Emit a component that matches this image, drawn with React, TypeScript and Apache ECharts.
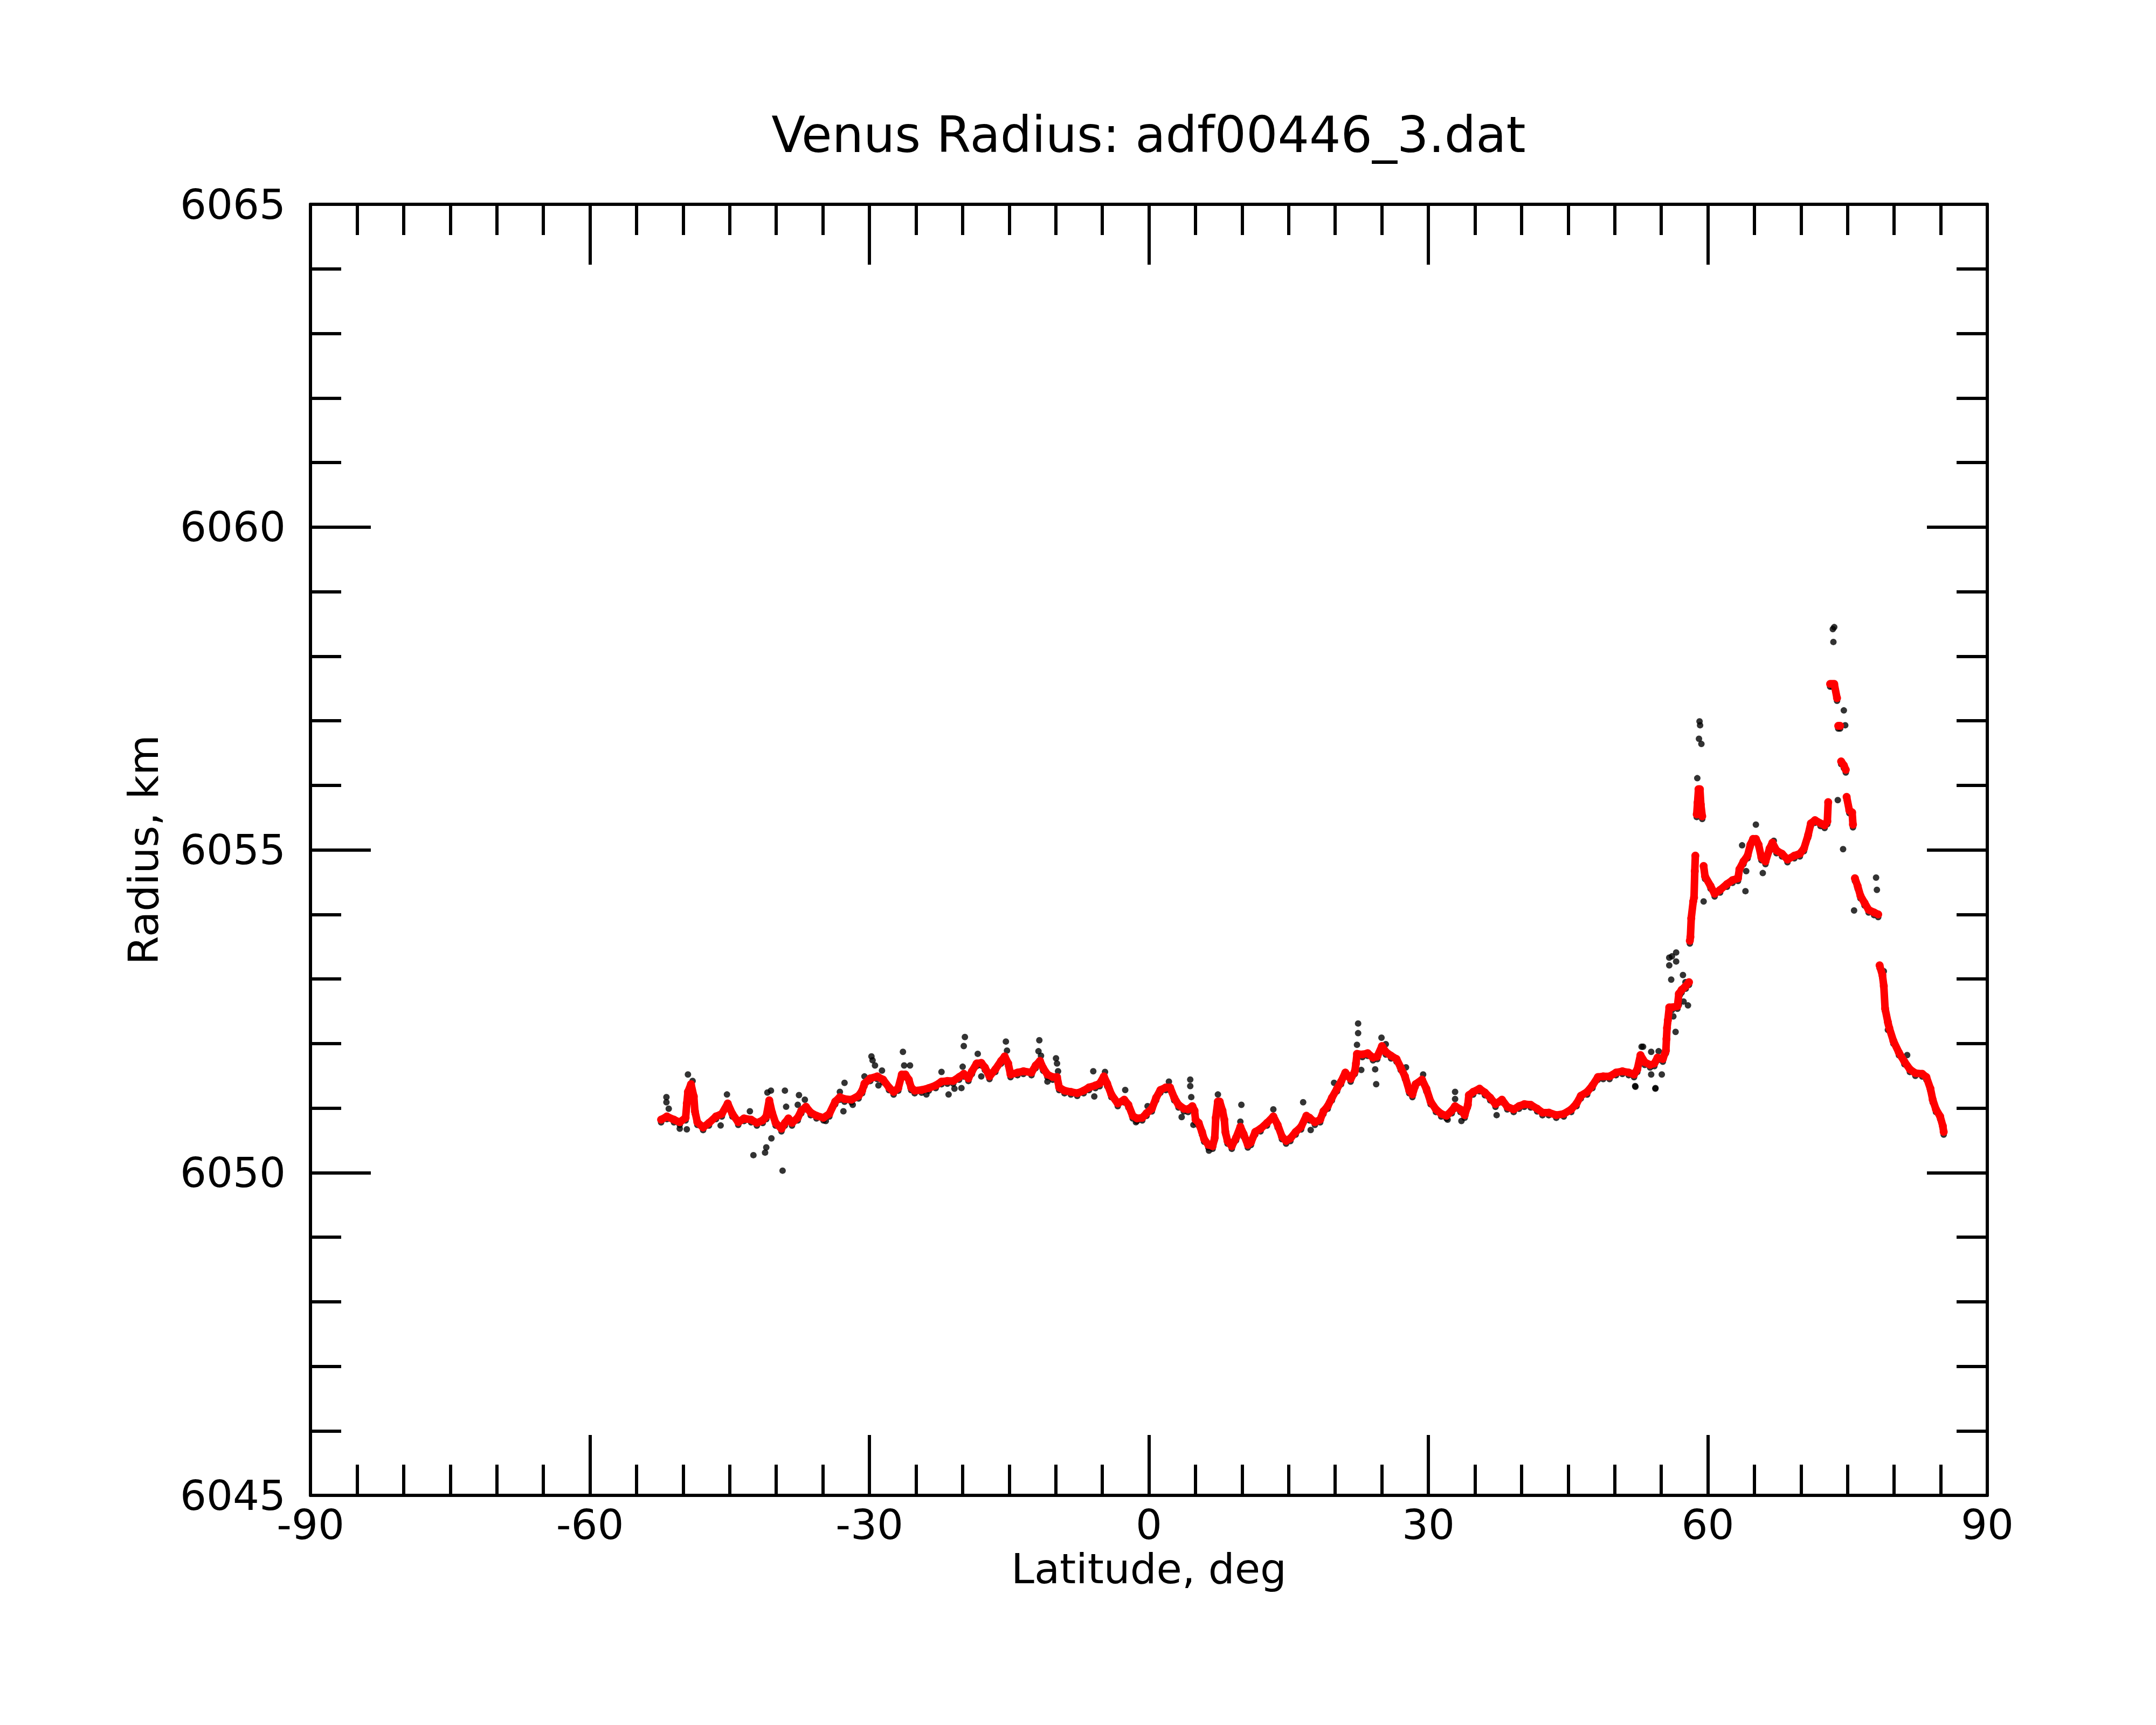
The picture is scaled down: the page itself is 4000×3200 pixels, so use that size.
import React, { useEffect, useRef } from "react";
import * as echarts from "echarts";

const titleText = "Venus Radius: adf00446_3.dat";
const xName = "Latitude, deg";
const yName = "Radius, km";
const xMin = -90;
const xMax = 90;
const xStep = 30;
const yMin = 6045;
const yMax = 6065;
const yStep = 5;

// smoothed profile (red)
const redLat = [
  -52.36, -51.74, -50.98, -50.36, -49.73, -49.6, -49.48, -49.15, -48.85, -48.73,
  -48.47, -47.85, -47.22, -46.47, -45.84, -45.21, -44.71, -44.08, -43.46, -42.7,
  -42.08, -41.45, -41.07, -40.75, -40.45, -40.07, -39.44, -39.07, -38.69, -38.31,
  -37.69, -37.31, -36.81, -36.3, -35.68, -34.93, -34.3, -33.67, -33.17, -32.67,
  -31.92, -31.16, -30.78, -30.53, -29.91, -29.15, -28.53, -27.9, -27.4, -26.9,
  -26.52, -26.14, -25.77, -25.52, -25.14, -24.39, -23.63, -22.88, -22.26, -21.63,
  -21.0, -20.37, -19.87, -19.37, -18.99, -18.49, -17.99, -17.61, -17.11, -16.48,
  -15.86, -15.48, -15.1, -14.85, -14.1, -13.47, -12.6, -12.15, -11.69, -11.35,
  -10.89, -10.32, -9.86, -9.63, -9.06, -8.37, -7.69, -7.0, -6.43, -5.74,
  -5.28, -4.83, -4.48, -4.03, -3.34, -2.65, -2.2, -1.74, -1.28, -0.71,
  -0.25, 0.32, 0.78, 1.24, 1.81, 2.27, 2.72, 3.18, 3.75, 4.21,
  4.67, 4.9, 5.01, 5.35, 5.7, 5.93, 6.38, 6.84, 7.07, 7.18,
  7.4, 7.6, 7.9, 8.1, 8.21, 8.44, 8.9, 9.36, 9.82, 10.16,
  10.62, 10.96, 11.42, 11.99, 12.68, 13.36, 13.82, 14.28, 14.73, 15.19,
  15.76, 16.34, 16.91, 17.25, 17.82, 18.39, 18.74, 19.2, 19.65, 20.2,
  20.63, 21.09, 21.66, 22.11, 22.23, 22.34, 22.92, 23.49, 24.06, 24.52,
  25.02, 25.43, 26.0, 26.58, 27.03, 27.49, 27.95, 28.29, 28.63, 29.32,
  29.78, 30.24, 30.81, 31.38, 31.95, 32.52, 32.87, 33.44, 33.9, 34.24,
  34.35, 34.81, 35.5, 36.07, 36.64, 37.21, 37.9, 38.47, 39.16, 39.73,
  40.3, 40.99, 41.68, 42.25, 42.93, 43.73, 44.54, 45.34, 45.91, 46.37,
  47.05, 47.62, 48.2, 48.77, 49.45, 50.14, 50.83, 51.51, 52.08, 52.43,
  52.77, 53.23, 53.8, 54.26, 54.6, 55.17, 55.5, 55.56, 55.62, 55.71,
  55.86, 56.15, 56.74, 56.89, 57.19, 57.63, 57.98, 58.07, 58.13, 58.22,
  58.43, 58.52, 58.6, 58.66, 58.81, 58.9, 59.0, 59.15, 59.25, 59.4,
  59.55, 59.7, 60.29, 60.73, 61.32, 62.06, 62.65, 63.24, 63.39, 63.83,
  64.27, 64.57, 64.86, 65.16, 65.45, 65.75, 66.19, 66.63, 66.93, 67.37,
  67.96, 68.55, 69.29, 69.88, 70.32, 70.77, 71.06, 71.5, 72.1, 72.54,
  72.83, 72.92, 73.13, 73.35, 73.57, 73.87, 74.0, 74.2, 74.31, 74.6,
  74.81, 74.9, 75.19, 75.49, 75.58, 75.79, 76.08, 76.38, 76.82, 77.26,
  77.85, 78.29, 78.44, 78.74, 78.89, 79.03, 79.33, 79.48, 79.92, 80.51,
  81.1, 81.69, 82.28, 83.02, 83.46, 83.9, 84.14, 84.49, 84.94, 85.23,
  85.32,
];
const redVal = [
  6050.82, 6050.87, 6050.82, 6050.78, 6050.85, 6051.07, 6051.25, 6051.37, 6051.18, 6050.95,
  6050.78, 6050.7, 6050.77, 6050.87, 6050.91, 6051.07, 6050.91, 6050.78, 6050.84, 6050.82,
  6050.77, 6050.81, 6050.87, 6051.12, 6050.93, 6050.77, 6050.68, 6050.77, 6050.84, 6050.77,
  6050.85, 6050.96, 6051.02, 6050.93, 6050.88, 6050.85, 6050.91, 6051.1, 6051.17, 6051.14,
  6051.13, 6051.19, 6051.27, 6051.38, 6051.46, 6051.49, 6051.44, 6051.32, 6051.25, 6051.31,
  6051.52, 6051.52, 6051.44, 6051.32, 6051.27, 6051.28, 6051.31, 6051.35, 6051.41, 6051.42,
  6051.42, 6051.48, 6051.53, 6051.46, 6051.57, 6051.69, 6051.7, 6051.63, 6051.49, 6051.6,
  6051.73, 6051.8, 6051.69, 6051.52, 6051.55, 6051.57, 6051.55, 6051.66, 6051.73, 6051.62,
  6051.52, 6051.48, 6051.48, 6051.32, 6051.27, 6051.25, 6051.23, 6051.27, 6051.32, 6051.35,
  6051.38, 6051.49, 6051.38, 6051.21, 6051.07, 6051.13, 6051.05, 6050.88, 6050.84, 6050.85,
  6050.92, 6050.99, 6051.16, 6051.28, 6051.32, 6051.32, 6051.16, 6051.05, 6050.99, 6050.98,
  6051.03, 6050.96, 6050.82, 6050.77, 6050.63, 6050.52, 6050.43, 6050.41, 6050.54, 6050.85,
  6051.1, 6051.1, 6050.96, 6050.82, 6050.63, 6050.49, 6050.41, 6050.54, 6050.71, 6050.6,
  6050.43, 6050.47, 6050.63, 6050.68, 6050.77, 6050.87, 6050.74, 6050.56, 6050.49, 6050.53,
  6050.63, 6050.71, 6050.88, 6050.85, 6050.78, 6050.82, 6050.95, 6051.03, 6051.16, 6051.3,
  6051.41, 6051.55, 6051.45, 6051.57, 6051.69, 6051.84, 6051.83, 6051.85, 6051.78, 6051.8,
  6051.96, 6051.87, 6051.81, 6051.76, 6051.63, 6051.49, 6051.27, 6051.21, 6051.37, 6051.44,
  6051.3, 6051.1, 6050.98, 6050.91, 6050.88, 6050.96, 6051.03, 6050.98, 6050.89, 6051.05,
  6051.2, 6051.25, 6051.3, 6051.24, 6051.16, 6051.06, 6051.13, 6051.02, 6050.98, 6051.03,
  6051.06, 6051.05, 6050.99, 6050.93, 6050.93, 6050.89, 6050.91, 6050.98, 6051.07, 6051.19,
  6051.25, 6051.35, 6051.48, 6051.49, 6051.49, 6051.55, 6051.57, 6051.55, 6051.52, 6051.6,
  6051.82, 6051.71, 6051.67, 6051.69, 6051.78, 6051.76, 6051.89, 6052.07, 6052.24, 6052.36,
  6052.56, 6052.56, 6052.58, 6052.77, 6052.83, 6052.89, 6052.95, 6053.59, 6053.65, 6053.94,
  6054.2, 6054.26, 6054.67, 6054.91, 6055.55, 6055.73, 6055.94, 6055.94, 6055.7, 6055.52,
  6054.75, 6054.59, 6054.44, 6054.32, 6054.38, 6054.47, 6054.53, 6054.56, 6054.7, 6054.82,
  6054.91, 6055.08, 6055.17, 6055.17, 6055.08, 6054.88, 6054.82, 6055.02, 6055.11, 6054.99,
  6054.94, 6054.85, 6054.91, 6054.94, 6055.02, 6055.23, 6055.41, 6055.46, 6055.41, 6055.38,
  6055.44, 6055.74, 6057.57, 6057.57, 6057.57, 6057.35, 6056.92, 6056.92, 6056.37, 6056.31,
  6056.24, 6055.82, 6055.61, 6055.58, 6055.39, 6054.56, 6054.44, 6054.29, 6054.18, 6054.07,
  6054.03, 6054.0, 6053.21, 6053.06, 6052.89, 6052.54, 6052.33, 6052.24, 6052.04, 6051.86,
  6051.72, 6051.6, 6051.54, 6051.53, 6051.48, 6051.3, 6051.13, 6050.98, 6050.87, 6050.72,
  6050.63,
];
// latitudes after which the smoothed profile has a visible jump
const redBreaksAfter = [57.98, 58.66, 59.4, 72.92, 73.87, 74.2, 74.81, 75.58, 78.29];

// raw points that stand apart from the smoothed profile (black)
const blackLat = [
  -51.79, -51.79, -51.54, -49.48, -48.98, -49.6, -50.36, -45.97, -45.29, -42.83,
  -42.45, -41.2, -41.07, -40.52, -40.95, -40.57, -39.32, -39.07, -38.94, -37.56,
  -36.93, -37.69, -34.68, -33.17, -32.79, -32.67, -31.79, -30.53, -29.78, -29.66,
  -29.4, -28.65, -29.03, -26.4, -26.27, -25.64, -23.88, -22.26, -21.5, -20.87,
  -20.12, -19.99, -19.87, -19.75, -18.37, -17.99, -15.35, -15.23, -11.76, -11.85,
  -11.58, -9.97, -9.86, -9.75, -10.89, -5.97, -5.86, -4.71, -2.54, -0.14,
  -1.39, 2.15, 3.52, 4.44, 4.44, 4.55, 4.78, 6.45, 7.41, 9.93,
  9.82, 13.36, 16.56, 17.37, 19.88, 22.46, 22.46, 22.34, 22.8, 24.4,
  24.29, 24.97, 25.43, 27.6, 29.44, 32.87, 32.87, 33.55, 32.07, 37.33,
  52.89, 52.2, 53.92, 54.72, 53.92, 54.37, 55.06, 73.57, 73.42, 73.48,
  74.6, 74.75, 73.95, 74.52, 75.7, 78.06, 78.15, 59.11, 59.17, 59.05,
  59.31, 58.87, 59.55, 65.16, 63.68, 64.12, 64.04, 65.9, 67.08, 55.86,
  56.15, 56.6, 55.86, 56.6, 56.07, 57.33, 57.87, 56.3, 56.54, 54.38,
  52.23, 53.05, 81.4, 79.33, 78.89, 57.0, 57.4, 57.6, 56.9,
];
const blackVal = [
  6051.17, 6051.09, 6050.99, 6051.52, 6051.42, 6050.67, 6050.68, 6050.73, 6051.21, 6050.95,
  6050.27, 6050.31, 6050.39, 6050.53, 6051.24, 6051.27, 6050.03, 6051.27, 6051.02, 6051.2,
  6051.13, 6051.05, 6050.8, 6051.25, 6050.95, 6051.39, 6051.05, 6051.49, 6051.8, 6051.74,
  6051.66, 6051.58, 6051.35, 6051.87, 6051.66, 6051.66, 6051.21, 6051.56, 6051.21, 6051.3,
  6051.31, 6051.64, 6051.96, 6052.1, 6051.84, 6051.49, 6052.03, 6051.89, 6052.05, 6051.88,
  6051.81, 6051.77, 6051.69, 6051.57, 6051.41, 6051.57, 6051.18, 6051.56, 6051.28, 6051.03,
  6050.78, 6051.41, 6050.86, 6051.44, 6051.34, 6051.17, 6050.74, 6050.34, 6051.21, 6051.05,
  6050.79, 6050.98, 6051.09, 6050.66, 6051.39, 6052.31, 6052.16, 6051.98, 6051.59, 6051.37,
  6051.6, 6052.09, 6051.99, 6051.63, 6051.52, 6051.25, 6051.14, 6050.8, 6050.82, 6050.89,
  6051.95, 6051.34, 6051.87, 6051.88, 6051.52, 6051.3, 6051.52, 6058.45, 6058.42, 6058.22,
  6057.16, 6056.93, 6055.77, 6055.01, 6054.06, 6054.57, 6054.38, 6056.99, 6056.93, 6056.72,
  6056.64, 6056.11, 6054.2, 6055.39, 6055.07, 6054.67, 6054.36, 6054.64, 6055.14, 6053.33,
  6053.35, 6053.41, 6053.21, 6053.27, 6052.99, 6053.06, 6052.59, 6052.42, 6052.18, 6051.31,
  6051.33, 6051.95, 6051.82, 6052.21, 6053.12, 6052.75, 6052.65, 6052.95, 6052.6,
];

const FONT = "DejaVu Sans";

export default function App() {
  const ref = useRef<HTMLDivElement>(null);
  useEffect(() => {
    document.body.style.margin = "0";
    const chart = echarts.init(ref.current as HTMLDivElement, null, { renderer: "svg" });

    const redPts = redLat.map((la, i) => [la, redVal[i]]);
    const blackPts = blackLat.map((la, i) => [la, blackVal[i]]);

    // split smoothed profile into continuous segments
    const segments: number[][][] = [];
    let cur: number[][] = [];
    redPts.forEach((p) => {
      cur.push(p);
      if (redBreaksAfter.indexOf(p[0]) >= 0) {
        segments.push(cur);
        cur = [];
      }
    });
    if (cur.length) segments.push(cur);

    const axisLineStyle = { color: "#000", width: 6 };
    const labelStyle = { fontSize: 77, color: "#000", fontFamily: FONT };
    const plain = (v: number) => String(v);

    const baseX = {
      type: "value",
      min: xMin,
      max: xMax,
      interval: xStep,
      gridIndex: 0,
      splitLine: { show: false },
      axisLine: { show: true, onZero: false, lineStyle: axisLineStyle },
      axisTick: { show: true, inside: true, length: 112, lineStyle: axisLineStyle },
      minorTick: { show: true, splitNumber: 6, length: 57, lineStyle: axisLineStyle },
    };
    const baseY = {
      type: "value",
      min: yMin,
      max: yMax,
      interval: yStep,
      gridIndex: 0,
      splitLine: { show: false },
      axisLine: { show: true, onZero: false, lineStyle: axisLineStyle },
      axisTick: { show: true, inside: true, length: 112, lineStyle: axisLineStyle },
      minorTick: { show: true, splitNumber: 5, length: 57, lineStyle: axisLineStyle },
    };

    const series: any[] = [];
    series.push({
      type: "scatter",
      xAxisIndex: 0,
      yAxisIndex: 0,
      data: redPts,
      symbol: "circle",
      symbolSize: 12,
      symbolOffset: [0, 5],
      itemStyle: { color: "#000" },
      silent: true,
      z: 2,
    });
    series.push({
      type: "scatter",
      xAxisIndex: 0,
      yAxisIndex: 0,
      data: blackPts,
      symbol: "circle",
      symbolSize: 12,
      itemStyle: { color: "#000" },
      silent: true,
      z: 2,
    });
    segments.forEach((seg) => {
      series.push({
        type: "line",
        xAxisIndex: 0,
        yAxisIndex: 0,
        data: seg,
        showSymbol: false,
        symbol: "none",
        lineStyle: { color: "#ff0000", width: 14, cap: "round", join: "round" },
        silent: true,
        z: 3,
      });
    });
    series.push({
      type: "scatter",
      xAxisIndex: 0,
      yAxisIndex: 0,
      data: redPts,
      symbol: "circle",
      symbolSize: 15,
      itemStyle: { color: "#ff0000" },
      silent: true,
      z: 4,
    });

    const option: any = {
      animation: false,
      backgroundColor: "#ffffff",
      grid: { left: 576, top: 379, width: 3111, height: 2395, containLabel: false },
      xAxis: [
        {
          ...baseX,
          position: "bottom",
          axisLabel: { ...labelStyle, margin: 16, formatter: plain },
          name: xName,
          nameLocation: "middle",
          nameGap: 96,
          nameTextStyle: { ...labelStyle },
        },
        {
          ...baseX,
          position: "top",
          axisLabel: { show: false },
        },
      ],
      yAxis: [
        {
          ...baseY,
          position: "left",
          axisLabel: { ...labelStyle, margin: 46, formatter: plain },
          name: yName,
          nameLocation: "middle",
          nameGap: 271,
          nameRotate: 90,
          nameTextStyle: { ...labelStyle },
        },
        {
          ...baseY,
          position: "right",
          axisLabel: { show: false },
        },
      ],
      graphic: [
        {
          type: "text",
          x: 2131,
          y: 204,
          silent: true,
          style: {
            text: titleText,
            fill: "#000",
            fontSize: 92,
            fontFamily: FONT,
            align: "center",
            textAlign: "center",
            verticalAlign: "top",
            textVerticalAlign: "top",
          },
        },
      ],
      series,
    };
    chart.setOption(option);
    return () => chart.dispose();
  }, []);
  return (
    <div
      ref={ref}
      style={{ position: "absolute", left: 0, top: 0, width: 4000, height: 3200, background: "#fff" }}
    />
  );
}
